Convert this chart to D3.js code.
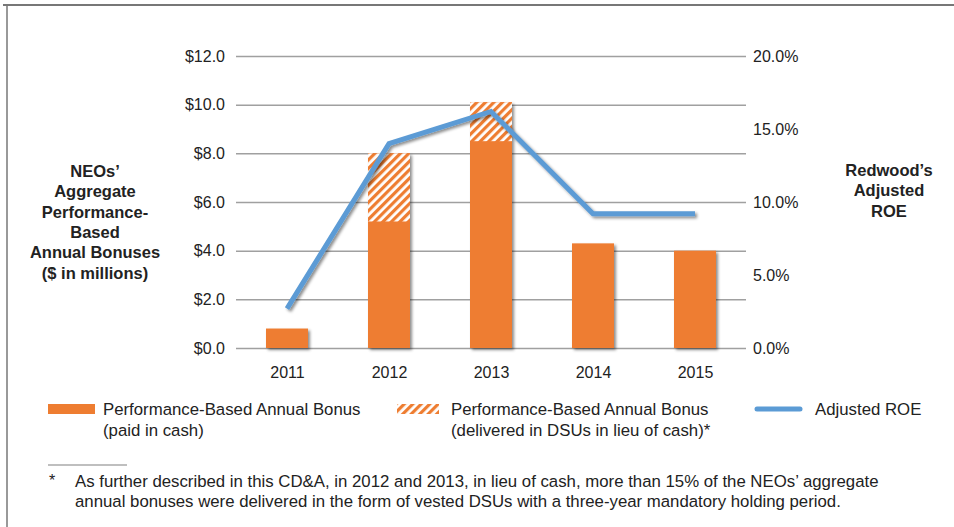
<!DOCTYPE html>
<html lang="en">
<head>
<meta charset="utf-8">
<title>NEOs' bonuses vs Redwood's adjusted ROE</title>
<script src="https://cdn.jsdelivr.net/npm/d3@7"></script>
<style>
  body { margin: 0; background: #fff; }
  svg text { font-family: "Liberation Sans", Arial, Helvetica, sans-serif; fill: #222; }
</style>
</head>
<body>
<script>
// data
var years = ["2011", "2012", "2013", "2014", "2015"];
var cashBonus = [0.8, 5.2, 8.5, 4.3, 4.0];      // $ millions, paid in cash
var dsuBonus = [0, 2.8, 1.6, 0, 0];            // $ millions, delivered in DSUs
var adjustedROE = [2.7, 14.0, 16.2, 9.2, 9.2];  // percent
var leftTicks = [0, 2, 4, 6, 8, 10, 12];
var rightTicks = [0, 5, 10, 15, 20];

var w = 954, h = 527;
var orange = "#ee7d31", blue = "#5b9bd5", grid = "#a0a0a0";
var tickFont = "Liberation Sans, Arial, sans-serif";

var svg = d3.select("body").append("svg")
  .attr("width", w).attr("height", h);

var defs = svg.append("defs");
var pat = defs.append("pattern")
  .attr("id", "hatch")
  .attr("patternUnits", "userSpaceOnUse")
  .attr("width", 6).attr("height", 6)
  .attr("patternTransform", "rotate(45)");
pat.append("rect").attr("width", 6).attr("height", 6).attr("fill", "#fff");
pat.append("rect").attr("width", 3.2).attr("height", 6).attr("fill", orange);

var shadow = defs.append("filter").attr("id", "shadow")
  .attr("x", "-20%").attr("y", "-20%").attr("width", "150%").attr("height", "150%");
shadow.append("feDropShadow")
  .attr("dx", 2).attr("dy", 2).attr("stdDeviation", 1.5)
  .attr("flood-color", "#000").attr("flood-opacity", 0.45);

// frame
svg.append("line").attr("x1", 3).attr("x2", w).attr("y1", 5).attr("y2", 5)
  .attr("stroke", "#777").attr("stroke-width", 2);
svg.append("line").attr("x1", 7).attr("x2", 7).attr("y1", 5).attr("y2", h)
  .attr("stroke", "#777").attr("stroke-width", 1.5);

// scales
var x = d3.scalePoint().domain(years).range([287, 695]);
var y = d3.scaleLinear().domain([0, 12]).range([348, 56]);
var y2 = d3.scaleLinear().domain([0, 20]).range([348, 56]);
var barW = 42;

// gridlines + left axis
var leftAxis = d3.axisLeft(y)
  .tickValues(leftTicks)
  .tickSize(-(746 - 236))
  .tickPadding(11)
  .tickFormat(function(d) { return "$" + d.toFixed(1); });
var gl = svg.append("g").attr("transform", "translate(236,0)").call(leftAxis);
gl.select(".domain").remove();
gl.selectAll(".tick line").attr("stroke", grid).attr("stroke-width", 1.5);
gl.selectAll(".tick text").attr("font-size", 16).style("font-family", tickFont).attr("fill", "#222");

// right axis (labels only)
var rightAxis = d3.axisRight(y2)
  .tickValues(rightTicks)
  .tickSize(0)
  .tickPadding(7)
  .tickFormat(function(d) { return d.toFixed(1) + "%"; });
var gr = svg.append("g").attr("transform", "translate(746,0)").call(rightAxis);
gr.select(".domain").remove();
gr.selectAll(".tick text").attr("font-size", 16).style("font-family", tickFont).attr("fill", "#222");

// x axis labels
var xAxis = d3.axisBottom(x).tickSize(0).tickPadding(13);
var gx = svg.append("g").attr("transform", "translate(0,354)").call(xAxis);
gx.select(".domain").remove();
gx.selectAll(".tick text").attr("font-size", 16).style("font-family", tickFont).attr("fill", "#222");

// bars
var bars = svg.append("g").attr("filter", "url(#shadow)");
years.forEach(function(yr, i) {
  var total = cashBonus[i] + dsuBonus[i];
  bars.append("rect")
    .attr("x", x(yr) - barW / 2)
    .attr("y", y(total))
    .attr("width", barW)
    .attr("height", y(0) - y(total))
    .attr("fill", orange);
});
var tops = svg.append("g");
years.forEach(function(yr, i) {
  if (dsuBonus[i] > 0) {
    var total = cashBonus[i] + dsuBonus[i];
    tops.append("rect")
      .attr("x", x(yr) - barW / 2)
      .attr("y", y(total))
      .attr("width", barW)
      .attr("height", y(cashBonus[i]) - y(total))
      .attr("fill", "url(#hatch)");
  }
});

// ROE line
var line = d3.line()
  .x(function(d, i) { return x(years[i]); })
  .y(function(d) { return y2(d); });
svg.append("path")
  .datum(adjustedROE)
  .attr("d", line)
  .attr("fill", "none")
  .attr("stroke", blue)
  .attr("stroke-width", 5)
  .attr("stroke-linejoin", "miter")
  .attr("filter", "url(#shadow)");

// axis titles
function multiline(lines, cx, y0, dy) {
  var t = svg.append("text").attr("text-anchor", "middle")
    .attr("font-size", 16.5).attr("font-weight", "bold");
  lines.forEach(function(s, i) {
    t.append("tspan").attr("x", cx).attr("y", y0 + i * dy).text(s);
  });
  return t;
}
multiline(["NEOs\u2019", "Aggregate", "Performance-", "Based", "Annual Bonuses", "($ in millions)"], 95, 177, 20.3);
multiline(["Redwood\u2019s", "Adjusted", "ROE"], 889, 176, 20.3);

// legend
var lg = svg.append("g");
lg.append("rect").attr("x", 48).attr("y", 404).attr("width", 47).attr("height", 10).attr("fill", orange);
lg.append("rect").attr("x", 397).attr("y", 404).attr("width", 42).attr("height", 10).attr("fill", "url(#hatch)");
lg.append("line").attr("x1", 757).attr("x2", 800).attr("y1", 409).attr("y2", 409)
  .attr("stroke", blue).attr("stroke-width", 5).attr("stroke-linecap", "round");
function legText(lines, x0) {
  var t = lg.append("text").attr("font-size", 16.8);
  lines.forEach(function(s, i) {
    t.append("tspan").attr("x", x0).attr("y", 415 + i * 21).text(s);
  });
}
legText(["Performance-Based Annual Bonus", "(paid in cash)"], 103);
legText(["Performance-Based Annual Bonus", "(delivered in DSUs in lieu of cash)*"], 451);
legText(["Adjusted ROE"], 815);

// footnote
svg.append("line").attr("x1", 48).attr("x2", 127).attr("y1", 465).attr("y2", 465)
  .attr("stroke", "#aaa").attr("stroke-width", 1.5);
svg.append("text").attr("x", 49).attr("y", 486).attr("font-size", 16).text("*");
var fn = svg.append("text").attr("font-size", 16.8);
fn.append("tspan").attr("x", 75).attr("y", 487)
  .text("As further described in this CD&A, in 2012 and 2013, in lieu of cash, more than 15% of the NEOs\u2019 aggregate");
fn.append("tspan").attr("x", 75).attr("y", 507)
  .text("annual bonuses were delivered in the form of vested DSUs with a three-year mandatory holding period.");
</script>
</body>
</html>
